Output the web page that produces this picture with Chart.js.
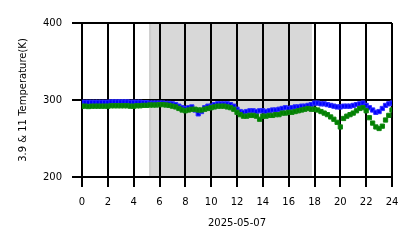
<!DOCTYPE html>
<html>
<head>
<meta charset="utf-8">
<script src="https://cdn.jsdelivr.net/npm/chart.js@4.4.1/dist/chart.umd.min.js"></script>
<style>
  html, body { margin: 0; padding: 0; background: #fff; }
  #wrap { width: 418px; height: 248px; }
</style>
</head>
<body>
<div id="wrap"><canvas id="chart" width="418" height="248"></canvas></div>
<script>
// hours of the day (UTC), 15 min cadence
const hours = [
  0, 0.25, 0.5, 0.75, 1, 1.25, 1.5, 1.75, 2, 2.25, 2.5, 2.75, 3, 3.25, 3.5, 3.75,
  4, 4.25, 4.5, 4.75, 5, 5.25, 5.5, 5.75, 6, 6.25, 6.5, 6.75, 7, 7.25, 7.5, 7.75,
  8, 8.25, 8.5, 8.75, 9, 9.25, 9.5, 9.75, 10, 10.25, 10.5, 10.75, 11, 11.25, 11.5, 11.75,
  12, 12.25, 12.5, 12.75, 13, 13.25, 13.5, 13.75, 14, 14.25, 14.5, 14.75, 15, 15.25, 15.5, 15.75,
  16, 16.25, 16.5, 16.75, 17, 17.25, 17.5, 17.75, 18, 18.25, 18.5, 18.75, 19, 19.25, 19.5, 19.75,
  20, 20.25, 20.5, 20.75, 21, 21.25, 21.5, 21.75, 22, 22.25, 22.5, 22.75, 23, 23.25, 23.5, 23.75, 24
];

// 3.9 um brightness temperature (K)
const temp39 = [
  297, 297, 297, 297, 297, 297, 297, 297, 297, 297.5, 297.5, 297.5, 297.5, 297.5, 297.5, 297,
  297, 297, 297, 296.5, 296.5, 296, 296, 296, 296, 296, 295.5, 295.5, 295, 294, 292, 290,
  289, 290, 291, 287, 282, 285, 290, 292, 292, 294, 295, 295, 295, 295, 294, 292,
  288, 285, 284, 285, 286, 286, 285, 286, 286, 285, 286, 287, 287, 288, 289, 290,
  289, 290, 291, 291, 292, 292, 293, 294, 296, 296, 295, 295, 294, 293, 292, 291,
  291, 292, 292, 292, 293, 294, 295, 296, 293, 290, 287, 284, 285, 289, 293, 295, 296
];

// 11 um brightness temperature (K)
const temp11 = [
  292, 292, 291.5, 292, 292, 292, 292, 292, 292, 292.5, 292.5, 292.5, 292.5, 292.5, 292.5, 292,
  292, 292.5, 292.5, 293, 293, 293.5, 293.5, 293.5, 294, 294, 293.5, 293, 292, 291, 289, 287,
  286, 287, 288, 288, 287, 287, 288, 289, 290, 291, 292, 292, 292, 291, 290, 288,
  284, 281, 279, 279, 280, 280, 279, 275, 279, 279, 280, 280, 281, 281, 283, 283,
  284, 284, 285, 286, 287, 288, 289, 288, 288, 287, 285, 283, 281, 278, 275, 271,
  265, 276, 279, 281, 283, 286, 289, 290, 286, 277, 270, 265, 263, 266, 274, 280, 287
];

const xTicks = [0, 2, 4, 6, 8, 10, 12, 14, 16, 18, 20, 22, 24];
const yTicks = [200, 300, 400];

// daytime span shaded in grey (hours)
const shadeStart = [5.2];
const shadeEnd = [17.8];

const shading = {
  id: "shading",
  beforeDraw(chart) {
    const { ctx, chartArea, scales } = chart;
    ctx.save();
    for (let i = 0; i < shadeStart.length; i++) {
      const x0 = scales.x.getPixelForValue(shadeStart[i]);
      const x1 = scales.x.getPixelForValue(shadeEnd[i]);
      ctx.fillStyle = "#d8d8d8";
      ctx.fillRect(x0, chartArea.top, x1 - x0, chartArea.bottom - chartArea.top);
      ctx.fillStyle = "#cdcdcd";
      ctx.fillRect(x0, chartArea.top, 2, chartArea.bottom - chartArea.top);
    }
    ctx.restore();
  },
};

const font = { family: "DejaVu Sans", size: 10 };

const ctx = document.getElementById("chart").getContext("2d");
new Chart(ctx, {
  type: "scatter",
  data: {
    datasets: [
      {
        label: "11",
        data: hours.map((h, i) => ({ x: h, y: temp11[i] })),
        backgroundColor: "#008000",
        borderColor: "#118811",
        pointStyle: "rect",
        pointRadius: 3,
        pointBorderWidth: 1,
      },
      {
        label: "3.9",
        data: hours.map((h, i) => ({ x: h, y: temp39[i] })),
        backgroundColor: "#0000ff",
        borderColor: "#3030ff",
        pointStyle: "rect",
        pointRadius: 3,
        pointBorderWidth: 1,
      },
    ],
  },
  options: {
    responsive: false,
    animation: false,
    devicePixelRatio: 1,
    layout: { padding: { left: 17, top: 23, right: 26, bottom: 19 } },
    plugins: { legend: { display: false }, tooltip: { enabled: false } },
    scales: {
      x: {
        type: "linear",
        min: 0,
        max: 24,
        afterBuildTicks: (s) => { s.ticks = xTicks.map((v) => ({ value: v })); },
        afterFit: (s) => { s.height = 52; },
        grid: { color: "#000", lineWidth: 2, tickLength: 10, tickColor: "#000", tickWidth: 2 },
        border: { display: true, color: "#000", width: 2 },
        ticks: { color: "#000", font: font, padding: 9, maxRotation: 0 },
        title: { display: true, text: "2025-05-07", color: "#000", font: font, padding: 0 },
      },
      y: {
        type: "linear",
        min: 200,
        max: 400,
        afterBuildTicks: (s) => { s.ticks = yTicks.map((v) => ({ value: v })); },
        afterFit: (s) => { s.width = 65; },
        grid: { color: "#000", lineWidth: 2, tickLength: 10, tickColor: "#000", tickWidth: 2 },
        border: { display: true, color: "#000", width: 2 },
        ticks: { color: "#000", font: font, padding: 10 },
        title: { display: true, text: "3.9 & 11 Temperature(K)", color: "#000", font: font, padding: 0 },
      },
    },
  },
  plugins: [shading],
});
</script>
</body>
</html>
